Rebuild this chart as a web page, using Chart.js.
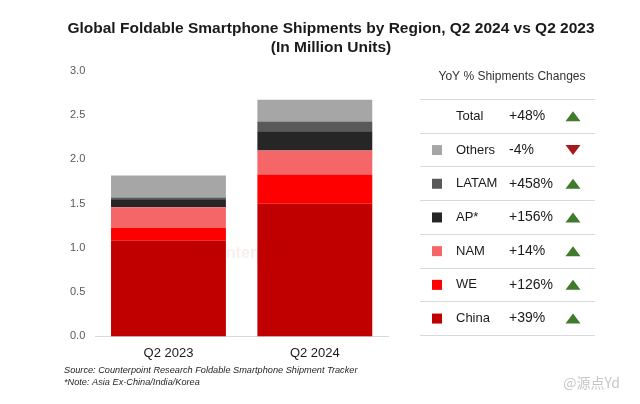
<!DOCTYPE html>
<html>
<head>
<meta charset="utf-8">
<script src="https://cdn.jsdelivr.net/npm/chart.js@4.4.1/dist/chart.umd.min.js"></script>
<style>
  html, body { margin: 0; padding: 0; background: #ffffff; }
  #wrap { width: 640px; height: 404px; position: relative; }
</style>
</head>
<body>
<div id="wrap"><canvas id="chart" width="640" height="404"></canvas></div>
<script>
// Datos (millones de unidades)
const categories = ['Q2 2023', 'Q2 2024'];
const regions = ['China', 'WE', 'NAM', 'AP*', 'LATAM', 'Others'];
const chinaValues = [1.08, 1.50];
const weValues = [0.145, 0.33];
const namValues = [0.235, 0.27];
const apValues = [0.09, 0.22];
const latamValues = [0.02, 0.11];
const othersValues = [0.25, 0.245];
const regionColors = ['#C00000', '#FF0000', '#F46668', '#262626', '#595959', '#A6A6A6'];
const yoyChanges = ['+39%', '+126%', '+14%', '+156%', '+458%', '-4%'];
const totalChange = '+48%';
const yTicks = [0, 0.5, 1.0, 1.5, 2.0, 2.5, 3.0];

const titleLines = [
    'Global Foldable Smartphone Shipments by Region, Q2 2024 vs Q2 2023',
    '(In Million Units)'
];
const notes = [
    'Source: Counterpoint Research Foldable Smartphone Shipment Tracker',
    '*Note: Asia Ex-China/India/Korea'
];

const FONT = '"Liberation Sans", Arial, sans-serif';

// Título, tabla de variación y notas dibujados sobre el canvas
const extrasPlugin = {
    id: 'extras',
    afterDraw(chart) {
        const ctx = chart.ctx;
        ctx.save();

        // Título
        ctx.fillStyle = '#1a1a1a';
        ctx.textAlign = 'center';
        ctx.textBaseline = 'middle';
        ctx.font = 'bold 15.5px ' + FONT;
        ctx.fillText(titleLines[0], 331, 29);
        ctx.fillText(titleLines[1], 331, 48);

        // Tabla YoY
        ctx.font = '12px ' + FONT;
        ctx.fillStyle = '#333333';
        ctx.fillText('YoY % Shipments Changes', 512, 77);

        const top = 99, rowH = 33.7;
        ctx.strokeStyle = '#d9d9d9';
        ctx.lineWidth = 1;
        for (let i = 0; i <= 7; i++) {
            const y = Math.round(top + i * rowH) + 0.5;
            ctx.beginPath();
            ctx.moveTo(420, y);
            ctx.lineTo(595, y);
            ctx.stroke();
        }

        const rows = [{ label: 'Total', change: totalChange, color: null }];
        for (let i = regions.length - 1; i >= 0; i--) {
            rows.push({ label: regions[i], change: yoyChanges[i], color: regionColors[i] });
        }

        rows.forEach((row, i) => {
            const cy = top + rowH * (i + 0.5) + 0.5;
            if (row.color) {
                ctx.fillStyle = row.color;
                ctx.fillRect(432, cy - 5, 10, 10);
            }
            ctx.textAlign = 'left';
            ctx.fillStyle = '#1a1a1a';
            ctx.font = '13px ' + FONT;
            ctx.fillText(row.label, 456, cy);
            ctx.font = '14px ' + FONT;
            ctx.fillText(row.change, 509, cy);

            const up = row.change.charAt(0) !== '-';
            ctx.fillStyle = up ? '#3F7A2D' : '#A8181C';
            ctx.beginPath();
            if (up) {
                ctx.moveTo(573, cy - 5);
                ctx.lineTo(580.5, cy + 5);
                ctx.lineTo(565.5, cy + 5);
            } else {
                ctx.moveTo(565.5, cy - 5);
                ctx.lineTo(580.5, cy - 5);
                ctx.lineTo(573, cy + 5);
            }
            ctx.closePath();
            ctx.fill();
        });

        // Notas
        ctx.textAlign = 'left';
        ctx.fillStyle = '#262626';
        ctx.font = 'italic 9.2px ' + FONT;
        ctx.fillText(notes[0], 64, 370);
        ctx.fillText(notes[1], 64, 382);

        // Marca de agua
        ctx.fillStyle = 'rgba(150, 150, 150, 0.55)';
        ctx.font = '14px "Noto Sans CJK SC", ' + FONT;
        ctx.textAlign = 'right';
        ctx.fillText('@源点Yd', 620, 383);

        ctx.fillStyle = 'rgba(180, 0, 0, 0.07)';
        ctx.font = 'bold 16px ' + FONT;
        ctx.textAlign = 'center';
        ctx.fillText('Counterpoint', 245, 254);

        ctx.restore();
    }
};

const seriesValues = [chinaValues, weValues, namValues, apValues, latamValues, othersValues];

new Chart(document.getElementById('chart').getContext('2d'), {
    type: 'bar',
    data: {
        labels: categories,
        datasets: regions.map((name, i) => ({
            label: name,
            data: seriesValues[i],
            backgroundColor: regionColors[i],
            borderWidth: 0,
            barPercentage: 0.785,
            categoryPercentage: 1.0
        }))
    },
    options: {
        responsive: false,
        animation: false,
        devicePixelRatio: 1,
        layout: {
            padding: { left: 60, right: 252, top: 71, bottom: 34 }
        },
        plugins: {
            legend: { display: false },
            title: { display: false },
            tooltip: { enabled: false }
        },
        scales: {
            x: {
                stacked: true,
                grid: { display: false, drawTicks: false },
                border: { display: true, color: '#d9d9d9', width: 1 },
                ticks: {
                    color: '#1a1a1a',
                    padding: 9,
                    font: { family: FONT, size: 13 }
                }
            },
            y: {
                stacked: true,
                min: 0,
                max: 3,
                afterBuildTicks(axis) {
                    axis.ticks = yTicks.map(v => ({ value: v }));
                },
                grid: { display: false, drawTicks: false },
                border: { display: false },
                ticks: {
                    color: '#595959',
                    padding: 10,
                    font: { family: FONT, size: 11 },
                    callback: v => Number(v).toFixed(1)
                }
            }
        }
    },
    plugins: [extrasPlugin]
});
</script>
</body>
</html>
